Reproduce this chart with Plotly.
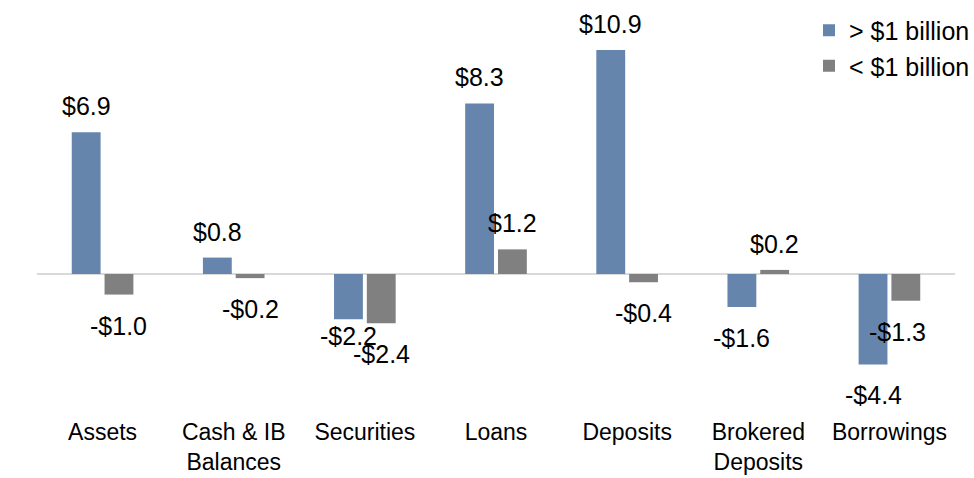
import plotly.graph_objects as go

categories = ["Assets", "Cash & IB<br>Balances", "Securities", "Loans", "Deposits",
              "Brokered<br>Deposits", "Borrowings"]
series_names = ["> $1 billion", "< $1 billion"]
large_values = [6.9, 0.8, -2.2, 8.3, 10.9, -1.6, -4.4]
small_values = [-1.0, -0.2, -2.4, 1.2, -0.4, 0.2, -1.3]

BLUE = "#6585ad"
GRAY = "#808080"
FONT = "Liberation Sans"

fig = go.Figure()
fig.add_trace(go.Bar(x=categories, y=large_values, name=series_names[0],
                     marker=dict(color=BLUE, line=dict(width=0))))
fig.add_trace(go.Bar(x=categories, y=small_values, name=series_names[1],
                     marker=dict(color=GRAY, line=dict(width=0))))

# data labels (Excel-style, offset from bar ends)
slot_shift = 16.4
special_y = {(0, 2): -17}
special_x = {(1, 6): -8}
annotations = []
for si, vals in enumerate([large_values, small_values]):
    for ci, v in enumerate(vals):
        ys = 26 if v >= 0 else -31
        ys = special_y.get((si, ci), ys)
        xs = (-slot_shift if si == 0 else slot_shift) + special_x.get((si, ci), 0)
        label = ("$%.1f" % v) if v >= 0 else ("-$%.1f" % abs(v))
        annotations.append(dict(x=categories[ci], y=v, xref="x", yref="y",
                                text=label, showarrow=False, xshift=xs, yshift=ys,
                                font=dict(family=FONT, size=25, color="#000000"),
                                xanchor="center", yanchor="middle"))

fig.update_layout(
    width=974, height=478,
    margin=dict(l=37, r=19, t=10, b=62, autoexpand=False),
    paper_bgcolor="white", plot_bgcolor="white",
    barmode="group", bargap=0.5, bargroupgap=0.12,
    font=dict(family=FONT, size=23, color="#000000"),
    showlegend=True,
    legend=dict(x=1 + 20 / 918, y=1.006, xanchor="right", yanchor="top",
                font=dict(family=FONT, size=25, color="#000000"),
                bgcolor="rgba(0,0,0,0)", itemwidth=30, tracegroupgap=0),
    annotations=annotations,
    xaxis=dict(showgrid=False, showline=False, ticks="", tickfont=dict(size=23),
               range=[-0.5, 6.5], automargin=False),
    yaxis=dict(range=[-6.91, 12.85], showgrid=False, showticklabels=False, ticks="",
               zeroline=True, zerolinecolor="#d9d9d9", zerolinewidth=2, showline=False,
               automargin=False),
)

fig.write_html("out.html", config={"displayModeBar": False},
               post_script="document.body.style.margin='0';document.body.style.padding='0';")
